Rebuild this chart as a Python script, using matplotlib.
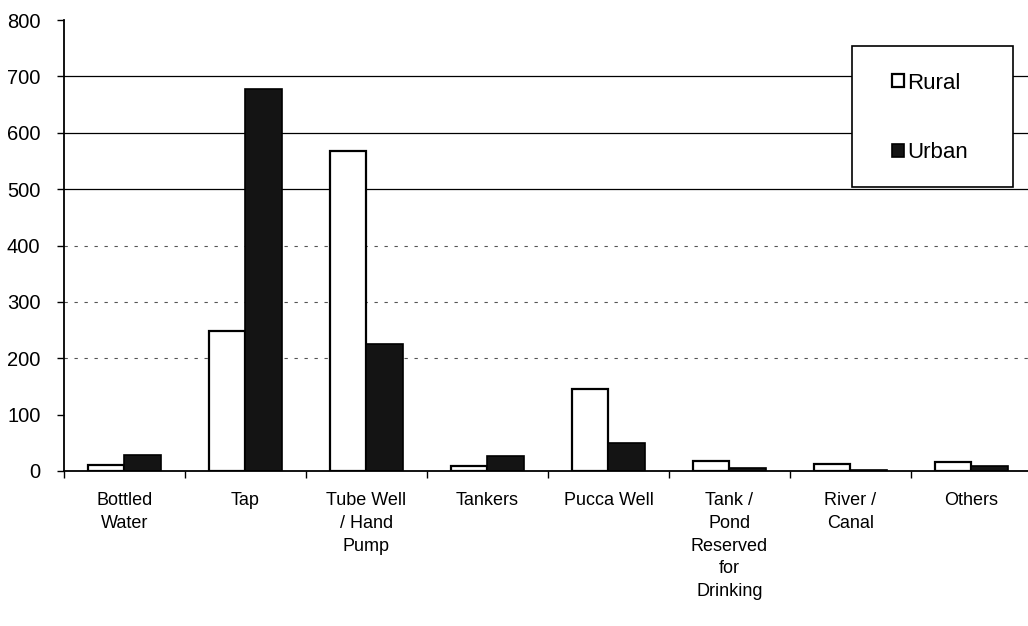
import numpy as np
import matplotlib.pyplot as plt
from matplotlib.patches import Rectangle

plt.rcParams['font.family'] = ['Liberation Sans', 'DejaVu Sans']

categories = ["Bottled\nWater", "Tap", "Tube Well\n/ Hand\nPump", "Tankers",
              "Pucca Well", "Tank /\nPond\nReserved\nfor\nDrinking",
              "River /\nCanal", "Others"]
rural = [10, 248, 567, 8, 145, 17, 13, 16]
urban = [28, 678, 225, 27, 50, 6, 1, 9]
yticks = [0, 100, 200, 300, 400, 500, 600, 700, 800]

W, H = 1028, 626
fig = plt.figure(figsize=(W / 100, H / 100), dpi=100)
ax = fig.add_axes([64 / W, 155 / H, (W - 64) / W, 451 / H])

x = np.arange(len(categories))
w = 0.305

# gridlines (scan look: upper ones solid, lower ones broken)
for v in yticks[1:-1]:
    if v >= 500:
        ax.axhline(v, color='black', lw=0.9, zorder=0)
    elif v >= 200:
        ax.axhline(v, color='#555555', lw=0.8, ls=(0, (3, 6)), zorder=0)

ax.bar(x - w / 2, rural, w, color='white', edgecolor='black', lw=1.6,
       label='Rural', zorder=2)
ax.bar(x + w / 2, urban, w, color='#141414', edgecolor='black', lw=1.2,
       label='Urban', zorder=2)

ax.set_xlim(-0.5, len(categories) - 0.533)
ax.set_ylim(0, 800)
ax.set_yticks(yticks)
ax.tick_params(axis='y', labelsize=14.5, length=5, width=1, direction='out', pad=12)

# category ticks at boundaries, labels in the middle
ax.set_xticks(np.arange(len(categories)) - 0.5)
ax.set_xticklabels([])
ax.tick_params(axis='x', which='major', length=5, width=1, direction='out')
ax.set_xticks(x, minor=True)
ax.set_xticklabels(categories, minor=True, fontsize=13, linespacing=1.45)
ax.tick_params(axis='x', which='minor', length=0, pad=15)

for s in ['top', 'right']:
    ax.spines[s].set_visible(False)
ax.spines['left'].set_linewidth(1.3)
ax.spines['bottom'].set_linewidth(1.3)

# legend box drawn by hand so it can be wide and short like the original
box = Rectangle((852 / W, 1 - 187 / H), 161 / W, 141 / H, transform=fig.transFigure,
                facecolor='white', edgecolor='black', lw=1.2, zorder=3)
fig.patches.append(box)
leg = fig.legend(*ax.get_legend_handles_labels(), loc='center left',
                 bbox_to_anchor=(892 / W, 1 - 118 / H), bbox_transform=fig.transFigure,
                 fontsize=16, frameon=False, labelspacing=2.2, borderpad=0,
                 handlelength=0.55, handleheight=0.55, handletextpad=0.15,
                 borderaxespad=0)
leg.set_zorder(4)

plt.savefig("out.png", dpi=100)
